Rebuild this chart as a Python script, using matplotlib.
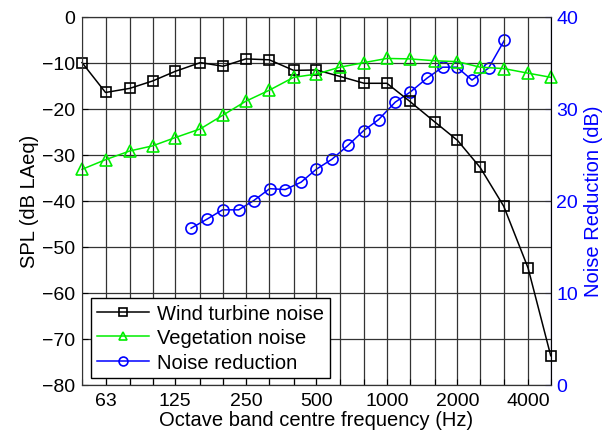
import matplotlib
matplotlib.use("Agg")
import matplotlib.pyplot as plt

plt.rcParams['font.family'] = ['Liberation Sans', 'DejaVu Sans']

bands = [50, 63, 80, 100, 125, 160, 200, 250, 315, 400, 500, 630, 800,
         1000, 1250, 1600, 2000, 2500, 3150, 4000, 5000]
band_labels = ['', '63', '', '', '125', '', '', '250', '', '', '500', '', '',
               '1000', '', '', '2000', '', '', '4000', '']

wind_turbine = [-10.0, -16.5, -15.6, -14.0, -11.9, -10.0, -10.8, -9.2, -9.4,
                -11.7, -11.6, -13.0, -14.5, -14.5, -18.4, -22.9, -26.9, -32.8,
                -41.2, -54.6, -73.7]
vegetation = [-33.2, -31.1, -29.2, -28.1, -26.3, -24.4, -21.4, -18.4, -16.0,
              -13.2, -12.5, -11.0, -10.0, -9.1, -9.2, -9.6, -9.8, -11.0,
              -11.3, -12.3, -13.2]

nr_freqs = [146, 171, 199, 233, 270, 316, 368, 430, 499, 583, 682, 795, 921,
            1085, 1258, 1482, 1728, 1990, 2307, 2714, 3168]
noise_reduction = [17.0, 18.0, 19.0, 19.0, 20.0, 21.3, 21.2, 22.0, 23.4, 24.5,
                   26.0, 27.6, 28.8, 30.7, 31.8, 33.3, 34.5, 34.5, 33.1, 34.4,
                   37.4]

FS = 14.5
TFS = 14
fig = plt.figure(figsize=(6.13, 4.39), dpi=100)
ax = fig.add_axes([0.1338, 0.1214, 0.7646, 0.8386])
ax2 = ax.twinx()

ax.set_xscale('log')
ax.set_xlim(50, 5000)
ax.set_ylim(-80, 0)
ax2.set_ylim(0, 40)

l1, = ax.plot(bands, wind_turbine, color='black', lw=1.1, marker='s', ms=7.5,
              mfc='none', mec='black', mew=1.2, label='Wind turbine noise',
              clip_on=False)
l2, = ax.plot(bands, vegetation, color='#00ee00', lw=1.1, marker='^', ms=8,
              mfc='none', mec='#00ee00', mew=1.2, label='Vegetation noise',
              clip_on=False)
l3, = ax2.plot(nr_freqs, noise_reduction, color='blue', lw=1.1, marker='o', ms=8,
               mfc='none', mec='blue', mew=1.2, label='Noise reduction',
               clip_on=False)

ax.set_xticks(bands)
ax.set_xticklabels(band_labels)
ax.xaxis.set_minor_locator(matplotlib.ticker.NullLocator())
ax.set_yticks(range(-80, 1, 10))
ax2.set_yticks(range(0, 41, 10))

ax.grid(True, which='major', color='#333333', lw=0.9)
ax.tick_params(axis='both', direction='in', length=4, labelsize=TFS, colors='black')
ax.tick_params(axis='x', pad=5)
ax.tick_params(axis='y', pad=5)
ax2.tick_params(axis='y', direction='in', length=4, labelsize=TFS,
                colors='blue', labelcolor='blue', pad=4)
for s in ['left', 'bottom', 'top']:
    ax.spines[s].set_color('#333333')
ax2.spines['right'].set_color('#6060ff')
ax2.spines['left'].set_visible(False)

ax.set_xlabel('Octave band centre frequency (Hz)', fontsize=FS, labelpad=1)
ax.set_ylabel('SPL (dB LAeq)', fontsize=FS, labelpad=2)
ax2.set_ylabel('Noise Reduction (dB)', fontsize=FS, color='blue', labelpad=4)

leg = ax.legend(handles=[l1, l2, l3], loc='lower left', fontsize=FS,
                fancybox=False, framealpha=1, edgecolor='black',
                bbox_to_anchor=(0.019, 0.018), borderaxespad=0,
                handlelength=2.6, labelspacing=0.28, borderpad=0.3,
                handletextpad=0.4, markerscale=0.8)
leg.get_frame().set_linewidth(1.0)
leg.set_zorder(10)
ax.set_zorder(ax2.get_zorder() + 1)
ax.patch.set_visible(False)

fig.savefig('out.png', dpi=100)
